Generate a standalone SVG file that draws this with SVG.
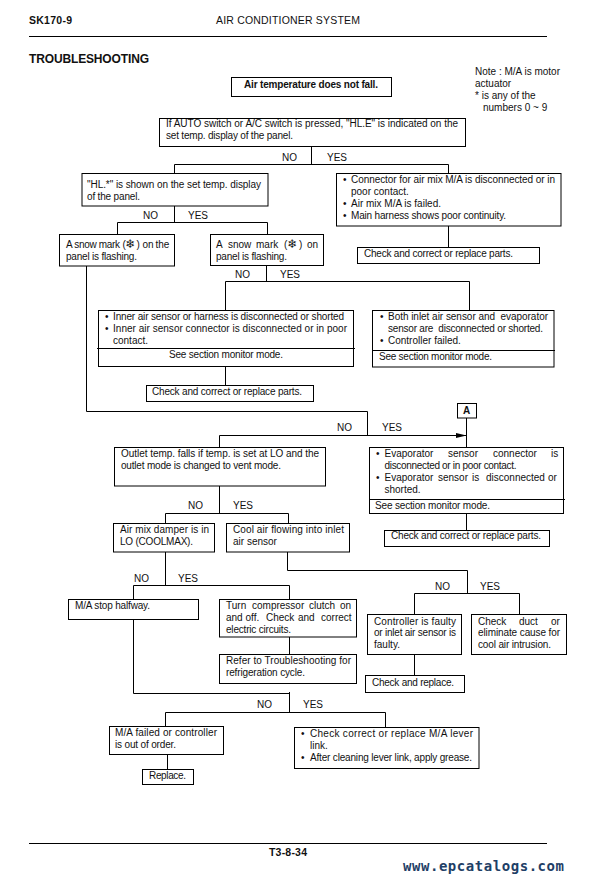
<svg xmlns="http://www.w3.org/2000/svg" width="615" height="882" viewBox="0 0 615 882">
<style>
text{font-family:"Liberation Sans",Arial,sans-serif;font-size:10px;fill:#111}
.h{font-weight:bold}
.s{font-family:"DejaVu Sans",sans-serif;font-size:12px}
rect{fill:#fff;stroke:#000;stroke-width:1}
.c line,.c polyline{fill:none;stroke:#000;stroke-width:1}
.d{stroke:#000;stroke-width:1}
</style>
<defs><marker id="ah" markerUnits="userSpaceOnUse" markerWidth="12" markerHeight="6" refX="11" refY="3" orient="auto"><path d="M0,0.5L11,3L0,5.500z" fill="#000"/></marker></defs>
<rect width="615" height="882" style="fill:#fff;stroke:none"/>
<g id="page">
<text class="h" x="29" y="24" style="font-size:10.500px" textLength="43">SK170-9</text>
<text x="216" y="24" style="font-size:10.500px" textLength="144">AIR CONDITIONER SYSTEM</text>
<line class="d" x1="29" y1="36.500" x2="547" y2="36.500"/>
<text class="h" x="29" y="63" style="font-size:12px" textLength="120">TROUBLESHOOTING</text>
<line class="d" x1="29" y1="843.500" x2="547" y2="843.500"/>
<text class="h" x="269" y="856" style="font-size:10.500px" textLength="38">T3-8-34</text>
<text x="403" y="871" textLength="161" style="font-family:'DejaVu Sans Mono',monospace;font-weight:bold;font-size:14px;fill:#1f3f66">www.epcatalogs.com</text>
</g>
<g id="note">
<text x="475" y="75" textLength="85">Note : M/A is motor</text>
<text x="475" y="87">actuator</text>
<text x="475" y="99">* is any of the</text>
<text x="483" y="111">numbers 0 ~ 9</text>
</g>
<g id="connectors" class="c">
<polyline points="311.500,147 311.500,164.500"/>
<polyline points="174.500,173 174.500,164.500 448.500,164.500 448.500,174"/>
<polyline points="174.500,206 174.500,222.500"/>
<polyline points="117.500,234 117.500,222.500 267.500,222.500 267.500,234"/>
<polyline points="86.500,266 86.500,411.500 367.500,411.500 367.500,435"/>
<polyline points="266.500,266 266.500,281.500"/>
<polyline points="225.500,311 225.500,281.500 469.500,281.500 469.500,310"/>
<polyline points="225.500,366 225.500,385"/>
<polyline points="448.500,226 448.500,247"/>
<polyline points="466.500,418 466.500,447"/>
<polyline points="219.500,447 219.500,435.500 466.500,435.500" marker-end="url(#ah)"/>
<polyline points="466.500,514 466.500,530"/>
<polyline points="219.500,486 219.500,513.500"/>
<polyline points="165.500,523 165.500,513.500 288.500,513.500 288.500,523"/>
<polyline points="165.500,552 165.500,585.500"/>
<polyline points="133.500,599 133.500,585.500 289.500,585.500 289.500,599"/>
<polyline points="289.500,637 289.500,654"/>
<polyline points="287.500,552 287.500,570.500 467.500,570.500 467.500,593.500"/>
<polyline points="414.500,614 414.500,593.500 519.500,593.500 519.500,614"/>
<polyline points="414.500,654 414.500,675"/>
<polyline points="133.500,619 133.500,693.500 289.500,693.500"/>
<polyline points="289.500,692 289.500,712.500"/>
<polyline points="165.500,726 165.500,712.500 385.500,712.500 385.500,727"/>
<polyline points="167.500,754 167.500,769"/>
</g>
<g id="labels">
<text x="282" y="161">NO</text><text x="327" y="161">YES</text>
<text x="143" y="219">NO</text><text x="188" y="219">YES</text>
<text x="235" y="278">NO</text><text x="280" y="278">YES</text>
<text x="337" y="431">NO</text><text x="382" y="431">YES</text>
<text x="188" y="509">NO</text><text x="233" y="509">YES</text>
<text x="134" y="582">NO</text><text x="178" y="582">YES</text>
<text x="435" y="590">NO</text><text x="480" y="590">YES</text>
<text x="257" y="708">NO</text><text x="303" y="708">YES</text>
</g>
<g id="n-start"><rect x="231.500" y="77.500" width="160" height="19"/>
<text class="h" x="244" y="88" textLength="134">Air temperature does not fall.</text></g>
<g id="n-auto"><rect x="159.500" y="118.500" width="306" height="28"/>
<text x="166" y="127" textLength="292">If AUTO switch or A/C switch is pressed, "HL.E" is indicated on the</text>
<text x="166" y="139" textLength="127">set temp. display of the panel.</text></g>
<g id="n-hl"><rect x="82" y="173.500" width="186" height="32.500"/>
<text x="87" y="188" textLength="174">"HL.*" is shown on the set temp. display</text>
<text x="87" y="200" textLength="53">of the panel.</text></g>
<g id="n-connector"><rect x="336.500" y="173.500" width="224.500" height="52.500"/>
<text x="343" y="183">•</text><text x="351" y="183" textLength="204">Connector for air mix M/A is disconnected or in</text>
<text x="351" y="195">poor contact.</text>
<text x="343" y="207">•</text><text x="351" y="207">Air mix M/A is failed.</text>
<text x="343" y="219">•</text><text x="351" y="219" textLength="155">Main harness shows poor continuity.</text></g>
<g id="n-check1"><rect x="357.500" y="247.500" width="182" height="16"/>
<text x="364" y="257" textLength="149">Check and correct or replace parts.</text></g>
<g id="n-snow1"><rect x="59.500" y="234.500" width="115" height="31.500"/>
<text y="248"><tspan x="66" textLength="54">A snow mark</tspan><tspan x="122.500">(</tspan><tspan class="s" x="125.500">❄</tspan><tspan x="136.500">)</tspan><tspan x="142.500">on</tspan><tspan x="155.500">the</tspan></text>
<text x="66" y="260" textLength="71">panel is flashing.</text></g>
<g id="n-snow2"><rect x="210.500" y="234.500" width="113" height="31"/>
<text y="248"><tspan x="216">A</tspan><tspan x="228">snow</tspan><tspan x="256">mark</tspan><tspan x="284">(</tspan><tspan class="s" x="287.500">❄</tspan><tspan x="299">)</tspan><tspan x="307">on</tspan></text>
<text x="216" y="260" textLength="71">panel is flashing.</text></g>
<g id="n-inner"><rect x="98.500" y="310.500" width="255" height="56"/>
<line class="d" x1="97" y1="348.500" x2="355" y2="348.500"/>
<text x="105" y="320">•</text><text x="113" y="320" textLength="231">Inner air sensor or harness is disconnected or shorted</text>
<text x="105" y="332">•</text><text x="113" y="332" textLength="234">Inner air sensor connector is disconnected or in poor</text>
<text x="113" y="344">contact.</text>
<text x="169" y="358" textLength="114">See section monitor mode.</text></g>
<g id="n-both"><rect x="372.500" y="310.500" width="181.500" height="56.500"/>
<line class="d" x1="372" y1="350.500" x2="555" y2="350.500"/>
<text x="380" y="320">•</text><text x="388" y="320" xml:space="preserve" textLength="160">Both inlet air sensor and  evaporator</text>
<text x="388" y="332" xml:space="preserve" textLength="155">sensor are  disconnected or shorted.</text>
<text x="380" y="344">•</text><text x="388" y="344">Controller failed.</text>
<text x="379" y="360" textLength="113">See section monitor mode.</text></g>
<g id="n-check2"><rect x="146.500" y="385.500" width="167" height="16"/>
<text x="152" y="395" textLength="150">Check and correct or replace parts.</text></g>
<g id="n-a"><rect x="457.500" y="403.500" width="19" height="14.500"/>
<text class="h" x="463" y="414">A</text></g>
<g id="n-outlet"><rect x="114.500" y="447.500" width="211" height="38.500"/>
<text x="121" y="457" textLength="198">Outlet temp. falls if temp. is set at LO and the</text>
<text x="121" y="469" textLength="160">outlet mode is changed to vent mode.</text></g>
<g id="n-evap"><rect x="369.500" y="447.500" width="194" height="66"/>
<line class="d" x1="369" y1="499.500" x2="565" y2="499.500"/>
<text x="376" y="457">•</text><text y="457"><tspan x="384.500">Evaporator</tspan><tspan x="448">sensor</tspan><tspan x="493">connector</tspan><tspan x="551">is</tspan></text>
<text x="384.500" y="469" textLength="132">disconnected or in poor contact.</text>
<text x="376" y="481">•</text><text y="481"><tspan x="384.500">Evaporator</tspan><tspan x="438">sensor</tspan><tspan x="472">is</tspan><tspan x="486">disconnected</tspan><tspan x="548">or</tspan></text>
<text x="384.500" y="493">shorted.</text>
<text x="375" y="509" textLength="115">See section monitor mode.</text></g>
<g id="n-check3"><rect x="384.500" y="530.500" width="165" height="16"/>
<text x="391" y="539" textLength="150">Check and correct or replace parts.</text></g>
<g id="n-airmix"><rect x="113.500" y="523.500" width="101" height="28.500"/>
<text x="120" y="533" textLength="89">Air mix damper is in</text>
<text x="120" y="545" textLength="73">LO (COOLMAX).</text></g>
<g id="n-cool"><rect x="226.500" y="523.500" width="123" height="28.500"/>
<text x="233" y="533" textLength="111">Cool air flowing into inlet</text>
<text x="233" y="545">air sensor</text></g>
<g id="n-stop"><rect x="68.500" y="599.500" width="130" height="20"/>
<text x="75" y="609" textLength="75">M/A stop halfway.</text></g>
<g id="n-turn"><rect x="219.500" y="599.500" width="137" height="37.500"/>
<text y="609"><tspan x="226">Turn</tspan><tspan x="252">compressor</tspan><tspan x="309">clutch</tspan><tspan x="340">on</tspan></text>
<text y="621"><tspan x="226">and</tspan><tspan x="245.500">off.</tspan><tspan x="266">Check</tspan><tspan x="298">and</tspan><tspan x="321">correct</tspan></text>
<text x="226" y="633" textLength="65">electric circuits.</text></g>
<g id="n-refer"><rect x="219.500" y="654.500" width="137" height="29"/>
<text x="226" y="664" textLength="125">Refer to Troubleshooting for</text>
<text x="226" y="676" textLength="79">refrigeration cycle.</text></g>
<g id="n-controller"><rect x="367.500" y="614.500" width="94" height="40"/>
<text x="374" y="625" textLength="82">Controller is faulty</text>
<text x="374" y="636" textLength="82">or inlet air sensor is</text>
<text x="374" y="648">faulty.</text></g>
<g id="n-duct"><rect x="471.500" y="614.500" width="95" height="40"/>
<text y="625"><tspan x="478">Check</tspan><tspan x="519">duct</tspan><tspan x="551">or</tspan></text>
<text x="478" y="636" textLength="82">eliminate cause for</text>
<text x="478" y="648" textLength="73">cool air intrusion.</text></g>
<g id="n-replace1"><rect x="365.500" y="675.500" width="99" height="17"/>
<text x="372" y="686" textLength="82">Check and replace.</text></g>
<g id="n-failed"><rect x="109.500" y="726.500" width="114" height="28"/>
<text x="115" y="736" textLength="102">M/A failed or controller</text>
<text x="115" y="748" textLength="61">is out of order.</text></g>
<g id="n-replace2"><rect x="142.500" y="769.500" width="51" height="15"/>
<text x="149" y="779" textLength="37">Replace.</text></g>
<g id="n-lever"><rect x="294.500" y="727.500" width="184.500" height="41"/>
<text x="301" y="737">•</text><text x="310" y="737" textLength="163">Check correct or replace M/A lever</text>
<text x="310" y="749">link.</text>
<text x="301" y="761">•</text><text x="310" y="761" textLength="162">After cleaning lever link, apply grease.</text></g>
</svg>
